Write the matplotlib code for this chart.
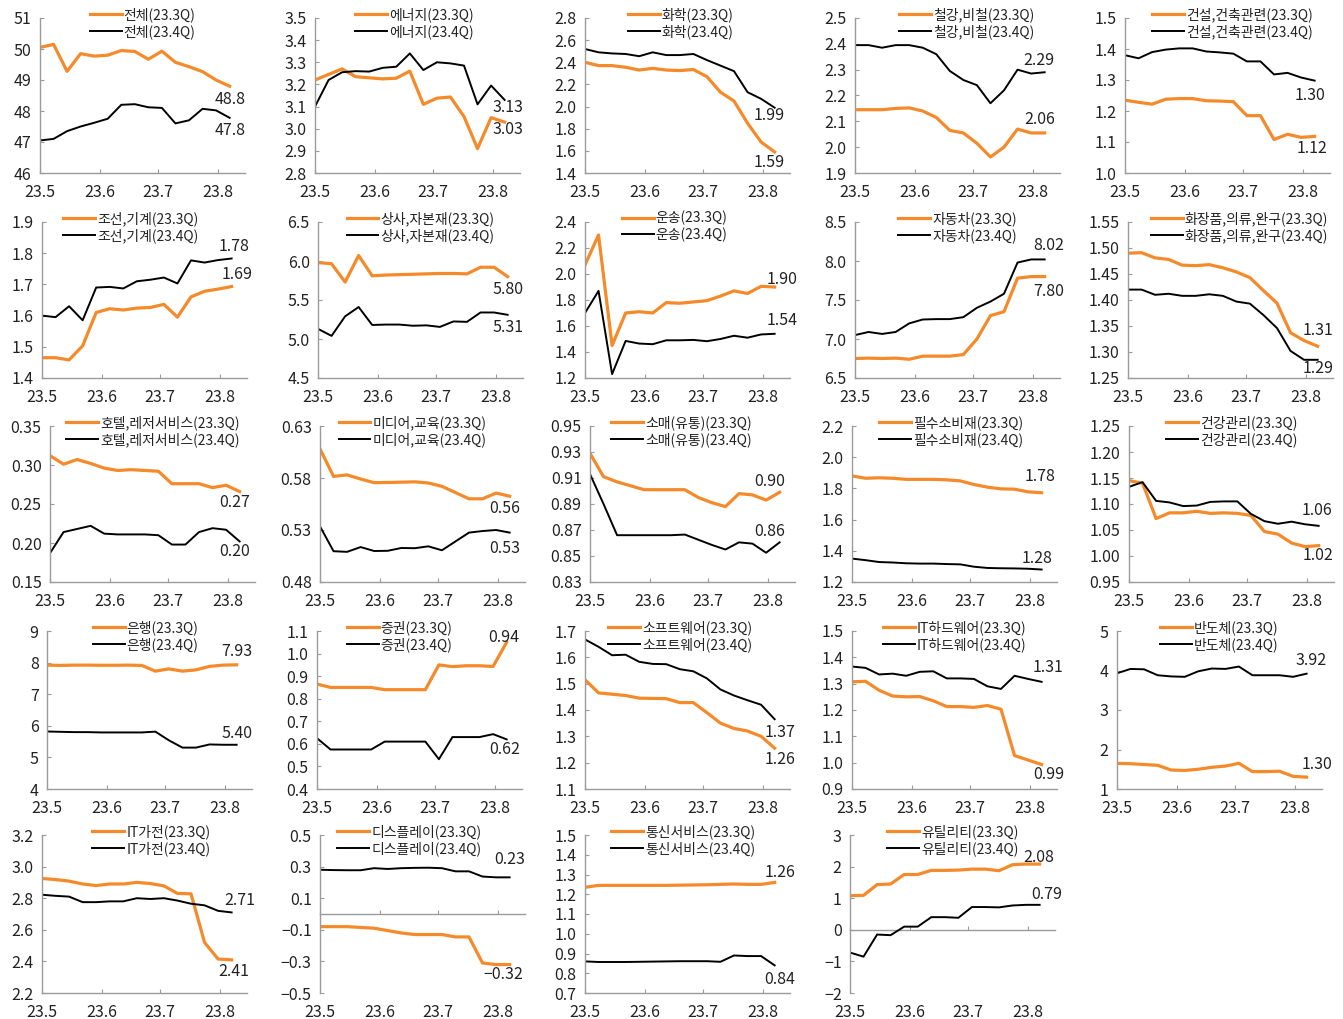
import matplotlib
matplotlib.use('Agg')
import matplotlib.pyplot as plt

plt.rcParams['font.family'] = ['Liberation Sans Narrow', 'Noto Sans CJK KR', 'DejaVu Sans']
plt.rcParams['axes.unicode_minus'] = True

# ---------------- data ----------------
week_days = [0, 7, 14, 21, 28, 35, 42, 49, 56, 63, 70, 77, 84, 91, 98]   # weekly, from 23.5
month_ticks = [0, 31, 61, 92]
month_labels = ['23.5', '23.6', '23.7', '23.8']

sectors = ['전체', '에너지', '화학', '철강,비철', '건설,건축관련',
           '조선,기계', '상사,자본재', '운송', '자동차', '화장품,의류,완구',
           '호텔,레저서비스', '미디어,교육', '소매(유통)', '필수소비재', '건강관리',
           '은행', '증권', '소프트웨어', 'IT하드웨어', '반도체',
           'IT가전', '디스플레이', '통신서비스', '유틸리티']

s01_q3 = [50.05, 50.15, 49.28, 49.85, 49.77, 49.8, 49.95, 49.92, 49.67, 49.93, 49.57, 49.43, 49.27, 49.0, 48.8]
s01_q4 = [47.05, 47.1, 47.35, 47.5, 47.62, 47.75, 48.2, 48.22, 48.12, 48.1, 47.6, 47.7, 48.07, 48.02, 47.78]
s02_q3 = [3.22, 3.245, 3.27, 3.235, 3.23, 3.225, 3.228, 3.26, 3.11, 3.138, 3.143, 3.055, 2.91, 3.05, 3.03]
s02_q4 = [3.10, 3.22, 3.255, 3.26, 3.258, 3.275, 3.28, 3.34, 3.265, 3.30, 3.295, 3.285, 3.11, 3.195, 3.13]
s03_q3 = [2.40, 2.37, 2.37, 2.355, 2.33, 2.345, 2.33, 2.325, 2.335, 2.27, 2.13, 2.05, 1.85, 1.68, 1.59]
s03_q4 = [2.52, 2.49, 2.48, 2.475, 2.455, 2.49, 2.465, 2.465, 2.475, 2.42, 2.37, 2.32, 2.13, 2.07, 1.99]
s04_q3 = [2.145, 2.145, 2.145, 2.15, 2.152, 2.14, 2.115, 2.065, 2.055, 2.015, 1.962, 2.0, 2.07, 2.055, 2.055]
s04_q4 = [2.395, 2.395, 2.385, 2.395, 2.395, 2.385, 2.36, 2.295, 2.26, 2.24, 2.17, 2.22, 2.30, 2.285, 2.29]
s05_q3 = [1.235, 1.228, 1.222, 1.238, 1.24, 1.24, 1.233, 1.232, 1.23, 1.185, 1.185, 1.108, 1.125, 1.115, 1.118]
s05_q4 = [1.38, 1.37, 1.39, 1.398, 1.402, 1.402, 1.392, 1.389, 1.385, 1.36, 1.36, 1.318, 1.323, 1.308, 1.298]
s06_q3 = [1.465, 1.465, 1.458, 1.503, 1.61, 1.622, 1.618, 1.624, 1.626, 1.636, 1.595, 1.66, 1.678, 1.685, 1.693]
s06_q4 = [1.60, 1.595, 1.63, 1.585, 1.69, 1.692, 1.687, 1.71, 1.715, 1.722, 1.703, 1.777, 1.77, 1.778, 1.783]
s07_q3 = [5.98, 5.965, 5.73, 6.07, 5.81, 5.82, 5.825, 5.83, 5.835, 5.84, 5.84, 5.835, 5.92, 5.92, 5.80]
s07_q4 = [5.13, 5.04, 5.29, 5.41, 5.18, 5.185, 5.185, 5.17, 5.175, 5.155, 5.225, 5.22, 5.34, 5.34, 5.31]
s08_q3 = [2.07, 2.30, 1.45, 1.70, 1.71, 1.70, 1.78, 1.775, 1.785, 1.795, 1.83, 1.87, 1.85, 1.905, 1.90]
s08_q4 = [1.70, 1.87, 1.23, 1.485, 1.465, 1.46, 1.49, 1.49, 1.493, 1.483, 1.50, 1.525, 1.51, 1.535, 1.54]
s09_q3 = [6.75, 6.755, 6.75, 6.755, 6.74, 6.78, 6.78, 6.78, 6.80, 7.00, 7.30, 7.35, 7.78, 7.80, 7.80]
s09_q4 = [7.05, 7.09, 7.065, 7.09, 7.2, 7.25, 7.255, 7.255, 7.28, 7.4, 7.48, 7.58, 7.98, 8.02, 8.02]
s10_q3 = [1.49, 1.491, 1.481, 1.478, 1.467, 1.466, 1.468, 1.462, 1.454, 1.443, 1.418, 1.394, 1.337, 1.322, 1.311]
s10_q4 = [1.42, 1.42, 1.41, 1.412, 1.408, 1.408, 1.411, 1.408, 1.397, 1.393, 1.371, 1.346, 1.302, 1.285, 1.285]
s11_q3 = [0.312, 0.301, 0.307, 0.302, 0.296, 0.293, 0.294, 0.293, 0.292, 0.276, 0.276, 0.276, 0.271, 0.274, 0.266]
s11_q4 = [0.187, 0.214, 0.218, 0.222, 0.212, 0.211, 0.211, 0.211, 0.210, 0.198, 0.198, 0.214, 0.219, 0.217, 0.202]
s12_q3 = [0.608, 0.5815, 0.583, 0.579, 0.5755, 0.5757, 0.576, 0.5763, 0.5752, 0.572, 0.566, 0.56, 0.56, 0.5655, 0.5625]
s12_q4 = [0.5335, 0.5096, 0.509, 0.5136, 0.5098, 0.510, 0.5127, 0.5125, 0.5143, 0.5105, 0.519, 0.5275, 0.529, 0.530, 0.5275]
s13_q3 = [0.929, 0.911, 0.907, 0.904, 0.901, 0.901, 0.901, 0.901, 0.895, 0.891, 0.888, 0.898, 0.897, 0.893, 0.899]
s13_q4 = [0.913, 0.890, 0.866, 0.866, 0.866, 0.866, 0.866, 0.8665, 0.8625, 0.8585, 0.855, 0.8605, 0.8595, 0.8525, 0.8605]
s14_q3 = [1.88, 1.865, 1.868, 1.865, 1.858, 1.858, 1.858, 1.855, 1.848, 1.825, 1.808, 1.797, 1.795, 1.778, 1.772]
s14_q4 = [1.35, 1.34, 1.328, 1.325, 1.32, 1.318, 1.318, 1.315, 1.313, 1.298, 1.29, 1.288, 1.287, 1.285, 1.28]
s15_q3 = [1.145, 1.14, 1.072, 1.083, 1.083, 1.086, 1.082, 1.083, 1.082, 1.078, 1.047, 1.042, 1.025, 1.018, 1.02]
s15_q4 = [1.133, 1.142, 1.106, 1.103, 1.096, 1.097, 1.104, 1.105, 1.105, 1.081, 1.067, 1.062, 1.066, 1.061, 1.058]
s16_q3 = [7.92, 7.91, 7.92, 7.92, 7.915, 7.915, 7.92, 7.91, 7.73, 7.80, 7.73, 7.77, 7.88, 7.92, 7.93]
s16_q4 = [5.82, 5.81, 5.80, 5.80, 5.79, 5.79, 5.79, 5.79, 5.815, 5.54, 5.31, 5.31, 5.41, 5.40, 5.40]
s17_q3 = [0.865, 0.85, 0.85, 0.85, 0.85, 0.84, 0.84, 0.84, 0.84, 0.95, 0.942, 0.946, 0.946, 0.943, 1.05]
s17_q4 = [0.625, 0.575, 0.575, 0.575, 0.575, 0.61, 0.61, 0.61, 0.61, 0.532, 0.63, 0.63, 0.63, 0.643, 0.62]
s18_q3 = [1.515, 1.465, 1.46, 1.455, 1.445, 1.444, 1.443, 1.428, 1.428, 1.39, 1.35, 1.33, 1.32, 1.30, 1.255]
s18_q4 = [1.668, 1.64, 1.608, 1.61, 1.583, 1.575, 1.574, 1.555, 1.547, 1.52, 1.478, 1.455, 1.437, 1.42, 1.365]
s19_q3 = [1.307, 1.309, 1.275, 1.253, 1.25, 1.251, 1.235, 1.213, 1.213, 1.21, 1.217, 1.203, 1.027, 1.01, 0.993]
s19_q4 = [1.365, 1.36, 1.335, 1.338, 1.33, 1.345, 1.347, 1.32, 1.32, 1.318, 1.29, 1.28, 1.33, 1.318, 1.307]
s20_q3 = [1.65, 1.64, 1.62, 1.60, 1.48, 1.47, 1.50, 1.55, 1.58, 1.65, 1.44, 1.44, 1.45, 1.32, 1.30]
s20_q4 = [3.93, 4.04, 4.03, 3.88, 3.85, 3.84, 3.98, 4.05, 4.04, 4.10, 3.88, 3.88, 3.88, 3.84, 3.92]
s21_q3 = [2.925, 2.918, 2.908, 2.89, 2.88, 2.89, 2.89, 2.90, 2.893, 2.878, 2.83, 2.828, 2.52, 2.415, 2.41]
s21_q4 = [2.822, 2.815, 2.81, 2.775, 2.775, 2.78, 2.78, 2.80, 2.795, 2.80, 2.785, 2.765, 2.755, 2.72, 2.71]
s22_q3 = [-0.08, -0.08, -0.08, -0.085, -0.09, -0.105, -0.12, -0.13, -0.13, -0.13, -0.145, -0.145, -0.31, -0.32, -0.32]
s22_q4 = [0.28, 0.278, 0.277, 0.277, 0.29, 0.285, 0.29, 0.292, 0.293, 0.29, 0.27, 0.27, 0.237, 0.232, 0.232]
s23_q3 = [1.235, 1.245, 1.245, 1.245, 1.245, 1.245, 1.245, 1.246, 1.247, 1.248, 1.25, 1.252, 1.25, 1.25, 1.26]
s23_q4 = [0.86, 0.857, 0.857, 0.857, 0.858, 0.859, 0.86, 0.861, 0.861, 0.861, 0.858, 0.89, 0.887, 0.887, 0.84]
s24_q3 = [1.08, 1.09, 1.43, 1.45, 1.75, 1.75, 1.88, 1.88, 1.89, 1.92, 1.92, 1.87, 2.06, 2.08, 2.08]
s24_q4 = [-0.72, -0.85, -0.15, -0.17, 0.10, 0.10, 0.40, 0.40, 0.38, 0.72, 0.72, 0.71, 0.77, 0.79, 0.79]

end_labels_q3 = ['48.8', '3.03', '1.59', '2.06', '1.12', '1.69', '5.80', '1.90', '7.80', '1.31',
                 '0.27', '0.56', '0.90', '1.78', '1.02', '7.93', '0.94', '1.26', '0.99', '1.30',
                 '2.41', '\u22120.32', '1.26', '2.08']
end_labels_q4 = ['47.8', '3.13', '1.99', '2.29', '1.30', '1.78', '5.31', '1.54', '8.02', '1.29',
                 '0.20', '0.53', '0.86', '1.28', '1.06', '5.40', '0.62', '1.37', '1.31', '3.92',
                 '2.71', '0.23', '0.84', '0.79']

series_q3 = [s01_q3, s02_q3, s03_q3, s04_q3, s05_q3, s06_q3, s07_q3, s08_q3, s09_q3, s10_q3,
             s11_q3, s12_q3, s13_q3, s14_q3, s15_q3, s16_q3, s17_q3, s18_q3, s19_q3, s20_q3,
             s21_q3, s22_q3, s23_q3, s24_q3]
series_q4 = [s01_q4, s02_q4, s03_q4, s04_q4, s05_q4, s06_q4, s07_q4, s08_q4, s09_q4, s10_q4,
             s11_q4, s12_q4, s13_q4, s14_q4, s15_q4, s16_q4, s17_q4, s18_q4, s19_q4, s20_q4,
             s21_q4, s22_q4, s23_q4, s24_q4]

# ---------------- style ----------------
# y axis: (min, max, step, decimals)
yaxes = [(46, 51, 1, 0), (2.8, 3.5, 0.1, 1), (1.4, 2.8, 0.2, 1), (1.9, 2.5, 0.1, 1), (1.0, 1.5, 0.1, 1),
         (1.4, 1.9, 0.1, 1), (4.5, 6.5, 0.5, 1), (1.2, 2.4, 0.2, 1), (6.5, 8.5, 0.5, 1), (1.25, 1.55, 0.05, 2),
         (0.15, 0.35, 0.05, 2), (0.48, 0.63, 0.05, 2), (0.83, 0.95, 0.02, 2), (1.2, 2.2, 0.2, 1), (0.95, 1.25, 0.05, 2),
         (4, 9, 1, 0), (0.4, 1.1, 0.1, 1), (1.1, 1.7, 0.1, 1), (0.9, 1.5, 0.1, 1), (1, 5, 1, 0),
         (2.2, 3.2, 0.2, 1), (-0.5, 0.5, 0.2, 1), (0.7, 1.5, 0.1, 1), (-2, 3, 1, 0)]

# label offsets in pixels (dx, dy downward) relative to last point
off_q3 = [(0, 13), (3, 7), (-5, 11), (-5, -13), (-3, 12), (5, -12), (0, 13), (7, -8), (4, 15), (0, -16),
          (-5, 11), (-5, 12), (-10, -11), (-2, -16), (-1, 10), (0, -13), (-3, -5), (5, 11), (7, 10), (10, -13),
          (2, 12), (-6, 10), (5, -10), (-1, -7)]
off_q4 = [(0, 13), (3, 8), (-5, 8), (-6, -12), (-5, 15), (2, -12), (0, 13), (7, -13), (4, -14), (0, 9),
          (-5, 10), (-5, 16), (-10, -11), (-5, -11), (-2, -15), (0, -11), (-2, 10), (5, 13), (6, -14), (4, -13),
          (8, -12), (0, -18), (5, 14), (7, -10)]
# horizontal legend shift in pixels
leg_dx = [0, -3, -7, 9, 5, -14, 0, -13, 0, 9,
          0, -10, -11, -3, 0, -4, -20, -7, 0, 0,
          7, -13, -4, 0]

row_top = [18, 222, 426, 631, 835]
row_bot = [173, 378, 582, 789, 993]
col_left = [[40, 315, 585, 855, 1125],
            [42, 318, 585, 855, 1128],
            [50, 320, 590, 852, 1129],
            [47, 317, 585, 852, 1117],
            [42, 320, 585, 850]]

W, H = 1343, 1019
ORANGE = '#F58A2A'
BLACK = '#000000'
SPINE = '#9B9B9B'
TXT = '#222222'
XMAX = 106
AX_W = XMAX * 1.935

fig = plt.figure(figsize=(W / 100, H / 100), dpi=100)
fig.patch.set_facecolor('white')

for i, name in enumerate(sectors):
    r, c = divmod(i, 5)
    left = col_left[r][c]
    top, bot = row_top[r], row_bot[r]
    ax = fig.add_axes([left / W, 1 - bot / H, AX_W / W, (bot - top) / H])
    ymin, ymax, step, dec = yaxes[i]
    ax.plot(week_days, series_q3[i], color=ORANGE, lw=2.3, label=f'{name}(23.3Q)', solid_joinstyle='round')
    ax.plot(week_days, series_q4[i], color=BLACK, lw=1.4, label=f'{name}(23.4Q)', solid_joinstyle='round')
    ax.set_xlim(0, XMAX)
    ax.set_ylim(ymin, ymax)
    n = int(round((ymax - ymin) / step))
    ticks = [ymin + k * step for k in range(n + 1)]
    ax.set_yticks(ticks)
    ax.set_yticklabels([f'{t:.{dec}f}'.replace('-', '\u2212') for t in ticks])
    ax.set_xticks(month_ticks)
    ax.set_xticklabels(month_labels)
    for s in ['top', 'right']:
        ax.spines[s].set_visible(False)
    for s in ['left', 'bottom']:
        ax.spines[s].set_color(SPINE)
        ax.spines[s].set_linewidth(1.0)
    ax.tick_params(axis='both', direction='in', length=3, width=0.8, color=SPINE,
                   labelsize=11.5, labelcolor=TXT)
    ax.tick_params(axis='y', pad=6)
    ax.tick_params(axis='x', pad=8)
    if ymin < 0 < ymax:
        ax.spines['bottom'].set_visible(False)
        ax.tick_params(axis='x', length=0, pad=8)
        sec = ax.secondary_xaxis((0 - ymin) / (ymax - ymin))
        sec.set_alignment('bottom')
        sec.set_xticks(month_ticks)
        sec.tick_params(axis='x', direction='in', length=3, width=0.8, color=SPINE,
                        labelbottom=False, labeltop=False)
        sec.spines['bottom'].set_color(SPINE)
        sec.spines['bottom'].set_linewidth(1.0)
    h = bot - top
    leg = ax.legend(loc='upper center', bbox_to_anchor=(0.5 + leg_dx[i] / AX_W, 1 + 11 / h), frameon=False,
                    fontsize=10, handlelength=2.3, handletextpad=0.15, labelspacing=0.15,
                    borderpad=0, borderaxespad=0)
    for t in leg.get_texts():
        t.set_color(TXT)
    xe = week_days[-1]
    dx, dy = off_q3[i]
    ax.annotate(end_labels_q3[i], (xe, series_q3[i][-1]), xytext=(dx, -dy), textcoords='offset pixels',
                ha='center', va='center', fontsize=11.5, color=TXT, annotation_clip=False)
    dx, dy = off_q4[i]
    ax.annotate(end_labels_q4[i], (xe, series_q4[i][-1]), xytext=(dx, -dy), textcoords='offset pixels',
                ha='center', va='center', fontsize=11.5, color=TXT, annotation_clip=False)

fig.savefig('out.png', dpi=100, facecolor='white')
